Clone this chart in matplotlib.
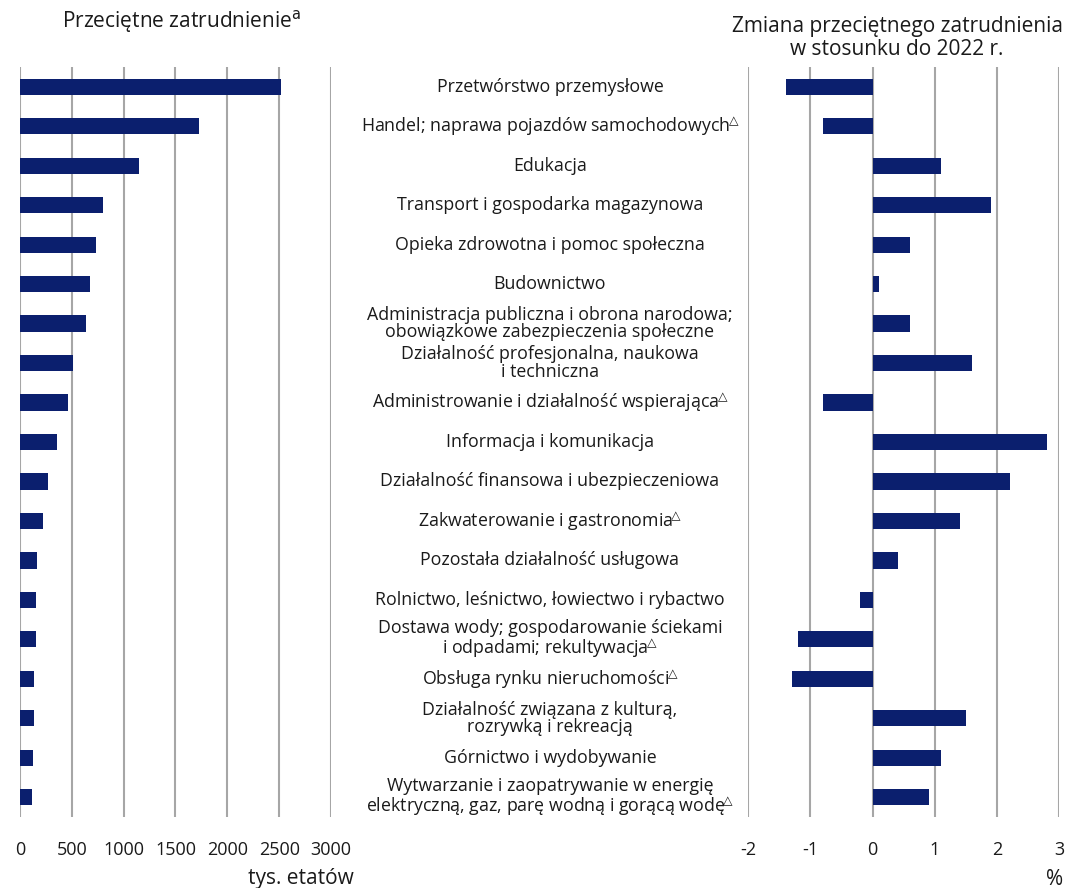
import matplotlib
matplotlib.use("Agg")
import matplotlib.pyplot as plt
import numpy as np

plt.rcParams['font.family'] = ['Open Sans', 'DejaVu Sans']

TRI = "$^{\\!\\!\\triangle}$"
categories = [
    "Przetwórstwo przemysłowe",
    "Handel; naprawa pojazdów samochodowych" + TRI,
    "Edukacja",
    "Transport i gospodarka magazynowa",
    "Opieka zdrowotna i pomoc społeczna",
    "Budownictwo",
    "Administracja publiczna i obrona narodowa;\nobowiązkowe zabezpieczenia społeczne",
    "Działalność profesjonalna, naukowa\ni techniczna",
    "Administrowanie i działalność wspierająca" + TRI,
    "Informacja i komunikacja",
    "Działalność finansowa i ubezpieczeniowa",
    "Zakwaterowanie i gastronomia" + TRI,
    "Pozostała działalność usługowa",
    "Rolnictwo, leśnictwo, łowiectwo i rybactwo",
    "Dostawa wody; gospodarowanie ściekami\ni odpadami; rekultywacja" + TRI,
    "Obsługa rynku nieruchomości" + TRI,
    "Działalność związana z kulturą,\nrozrywką i rekreacją",
    "Górnictwo i wydobywanie",
    "Wytwarzanie i zaopatrywanie w energię\nelektryczną, gaz, parę wodną i gorącą wodę" + TRI,
]
employment = [2515, 1724, 1148, 804, 730, 678, 637, 508, 463, 357,
              270, 222, 164, 157, 156, 138, 132, 128, 113]
change_pct = [-1.4, -0.8, 1.1, 1.9, 0.6, 0.1, 0.6, 1.6, -0.8, 2.8,
              2.2, 1.4, 0.4, -0.2, -1.2, -1.3, 1.5, 1.1, 0.9]
left_ticks = [0, 500, 1000, 1500, 2000, 2500, 3000]
right_ticks = [-2, -1, 0, 1, 2, 3]

W, H = 1067, 888
fig = plt.figure(figsize=(W / 100, H / 100), dpi=100)

bar_color = "#0b1f6e"
grid_color = "#a6a6a6"
text_color = "#1a1a1a"

top_px, bot_px = 67, 817
ax_b = 1 - bot_px / H
ax_h = (bot_px - top_px) / H

axL = fig.add_axes([20 / W, ax_b, 311 / W, ax_h])
axR = fig.add_axes([748.3 / W, ax_b, 311 / W, ax_h])

y = np.arange(len(categories))

for ax, vals, ticks in [(axL, employment, left_ticks), (axR, change_pct, right_ticks)]:
    ax.barh(y, vals, height=0.41, color=bar_color, zorder=3)
    ax.set_xlim(ticks[0], ticks[-1])
    ax.set_ylim(len(categories) - 0.5, -0.5)
    ax.set_xticks(ticks)
    ax.set_xticklabels([str(t) for t in ticks], fontsize=13, color=text_color)
    ax.set_yticks([])
    for t in ticks:
        ax.axvline(t, color=grid_color, lw=1.5, zorder=1)
    for s in ax.spines.values():
        s.set_visible(False)
    ax.tick_params(axis='x', length=0, pad=17)
    ax.set_facecolor('none')

# category labels in the middle
for i, lab in enumerate(categories):
    yy_fig = 1 - (top_px + (i + 0.5) * (bot_px - top_px) / len(categories)) / H
    fig.text(550 / W, yy_fig, lab, ha='center', va='center', fontsize=12.8,
             color=text_color, linespacing=0.95)

fig.text(182 / W, 1 - 22 / H, "Przeciętne zatrudnienie$^{\\mathrm{a}}$", ha='center', va='center',
         fontsize=15, color=text_color)
fig.text(897 / W, 1 - 38 / H, "Zmiana przeciętnego zatrudnienia\nw stosunku do 2022 r.",
         ha='center', va='center', fontsize=15, color=text_color, linespacing=1.15)

fig.text(354 / W, 1 - 878 / H, "tys. etatów", ha='right', va='center', fontsize=15, color=text_color)
fig.text(1063 / W, 1 - 879 / H, "%", ha='right', va='center', fontsize=15, color=text_color)

fig.savefig("out.png", dpi=100)
